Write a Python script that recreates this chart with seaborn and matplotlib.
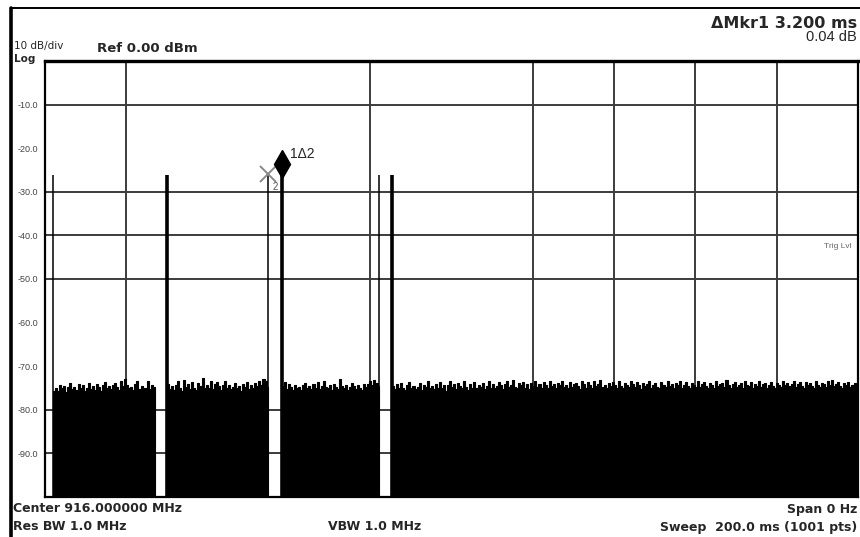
import numpy as np
import matplotlib
matplotlib.use("Agg")
import matplotlib.pyplot as plt
from matplotlib.lines import Line2D
from matplotlib.transforms import offset_copy
import seaborn as sns

# ---------------- data ----------------
sweep_ms = 200.0
ref_db = 0.0
bottom_db = -100.0
step_ms = 0.5

# gaps in the noise floor (trace drops below the screen)
gap_start_ms = [0.0, 27.1, 54.9, 82.2]
gap_end_ms = [2.0, 30.0, 58.3, 85.4]

# pulse spikes (ms, dB) and whether they are wide
spike_ms = [2.0, 30.0, 54.9, 58.3, 82.2, 85.4]
spike_db = [-26.2, -26.2, -26.0, -25.9, -26.2, -26.2]
spike_wide = [False, True, False, True, False, True]

# noise floor segments (dB, one value every 0.5 ms)
noise1 = [-75.6, -74.9, -75.8, -74.2, -75.1, -74.6, -75.9, -74.8, -73.9, -75.3,
          -74.7, -75.5, -74.1, -75.0, -74.4, -75.7, -74.9, -73.8, -75.2, -74.6,
          -75.4, -74.0, -74.8, -75.6, -74.3, -73.6, -75.1, -74.5, -75.3, -74.2,
          -73.9, -74.8, -75.5, -73.4, -74.6, -72.9, -74.2, -75.0, -74.7, -75.4,
          -74.1, -73.3, -75.2, -74.6, -75.1, -74.9, -73.5, -75.3, -74.2, -74.8]
noise2 = [-74.0, -75.2, -74.6, -75.5, -74.3, -73.4, -75.0, -75.6, -73.2, -74.8,
          -74.1, -75.3, -73.6, -74.9, -75.4, -73.9, -74.5, -72.8, -75.1, -74.3,
          -74.9, -73.5, -75.2, -74.0, -73.7, -74.6, -75.5, -74.2, -73.3, -75.0,
          -74.4, -75.3, -74.7, -73.8, -75.1, -74.5, -75.6, -74.1, -74.8, -73.6,
          -75.2, -74.4, -75.0, -73.9, -74.6, -73.4, -74.2, -72.9, -73.5, -74.8]
noise3 = [-74.5, -73.6, -75.2, -74.0, -74.8, -75.4, -74.3, -75.1, -74.7, -75.5,
          -74.2, -73.8, -75.0, -74.6, -75.3, -74.1, -74.9, -73.7, -75.2, -74.5,
          -73.3, -74.8, -75.1, -74.4, -75.4, -74.0, -74.7, -75.3, -72.9, -74.6,
          -75.0, -74.2, -75.5, -74.8, -73.9, -74.5, -75.2, -74.3, -74.9, -75.4,
          -74.1, -74.7, -74.0, -73.5, -74.4, -73.2, -73.8, -74.6]
noise4 = [-74.6, -75.3, -74.1, -75.0, -73.8, -74.9, -75.4, -74.2, -73.6, -75.1,
          -74.5, -75.2, -74.8, -73.9, -75.5, -74.3, -74.7, -73.4, -75.0, -74.6,
          -75.3, -74.0, -74.9, -73.7, -75.1, -74.4, -75.6, -74.2, -73.5, -74.8,
          -74.1, -75.2, -73.8, -74.6, -75.0, -73.3, -74.7, -75.4, -74.0, -74.9,
          -73.6, -75.1, -74.3, -74.8, -73.9, -75.2, -74.5, -73.4, -74.9, -74.1,
          -75.0, -74.6, -73.7, -74.2, -75.3, -74.0, -73.5, -74.8, -74.3, -73.2,
          -74.7, -75.1, -73.9, -74.4, -73.6, -74.9, -74.1, -75.2, -73.8, -74.5,
          -73.4, -74.8, -74.0, -75.0, -73.7, -74.3, -74.9, -73.5, -74.6, -74.1,
          -75.1, -73.9, -74.4, -73.3, -74.7, -74.2, -75.0, -73.6, -74.8, -74.0,
          -73.8, -74.5, -75.2, -73.4, -74.1, -74.9, -73.7, -74.3, -75.0, -73.5,
          -74.6, -74.0, -73.2, -74.8, -74.4, -75.1, -73.9, -74.6, -73.6, -74.2,
          -74.9, -73.4, -74.5, -75.0, -73.8, -74.3, -74.7, -73.3, -74.1, -74.8,
          -73.7, -74.4, -75.2, -73.9, -74.6, -74.0, -73.5, -74.9, -74.2, -73.8,
          -74.7, -75.0, -73.6, -74.3, -74.8, -73.4, -74.5, -74.1, -75.1, -73.9,
          -74.4, -73.3, -74.9, -74.2, -73.7, -74.6, -75.0, -73.8, -74.3, -74.7,
          -73.5, -74.8, -74.0, -73.6, -74.5, -75.1, -73.9, -74.2, -74.9, -73.4,
          -74.6, -74.1, -73.8, -74.7, -73.2, -74.4, -75.0, -74.0, -73.6, -74.8,
          -74.3, -73.9, -74.9, -73.5, -74.2, -74.6, -73.7, -75.1, -74.0, -74.5,
          -73.4, -74.7, -74.1, -73.8, -74.9, -74.3, -73.6, -74.5, -75.0, -73.9,
          -74.2, -74.8, -73.5, -74.4, -73.9, -74.6, -74.1, -73.3, -74.7, -74.0,
          -73.7, -74.5, -74.9, -73.6, -74.2, -73.8, -74.6, -75.0, -73.4, -74.3,
          -74.8, -73.9, -74.1, -74.7, -73.5, -74.4, -73.2, -74.6, -74.0, -73.7,
          -74.5, -74.9, -73.8, -74.2, -73.6, -74.8, -74.3, -73.9, -74.4, -73.5]
noise_segments = [noise1, noise2, noise3, noise4]

# graticule lines that are shown on the screen
grid_ms = [20, 80, 120, 140, 160, 180]
grid_db = [-10, -30, -40, -50, -80, -90]
ytick_db = [-10, -20, -30, -40, -50, -60, -70, -80, -90]
ytick_labels = ["-10.0", "-20.0", "-30.0", "-40.0", "-50.0", "-60.0", "-70.0", "-80.0", "-90.0"]

mkr1_idx = 3   # spike carrying marker 1 (diamond)
mkr2_idx = 2   # spike carrying marker 2 (cross)

# ---------------- build trace ----------------
t_parts, v_parts = [], []
seg_ends = gap_start_ms[1:] + [sweep_ms]
for g0, g1, noise, e in zip(gap_start_ms, gap_end_ms, noise_segments, seg_ends):
    t_parts.append([g0])
    v_parts.append([bottom_db - 5])
    tn = g1 + step_ms * np.arange(len(noise))
    keep = tn < e
    t_parts.append(tn[keep])
    v_parts.append(np.array(noise)[keep])
t_trace = np.concatenate(t_parts)
v_trace = np.concatenate(v_parts)
t_trace = np.append(t_trace, sweep_ms)
v_trace = np.append(v_trace, v_trace[-1])

# ---------------- plot ----------------
sns.set_style("white")
plt.rcParams["font.family"] = ["Liberation Sans", "DejaVu Sans"]

fig = plt.figure(figsize=(8.6, 5.37), dpi=100)
W, H = 860, 537
ax = fig.add_axes([45 / W, 40 / H, 813 / W, 436 / H])

grid_col = "#3c3c3c"
for g in grid_ms:
    ax.axvline(g, color=grid_col, lw=1.4, zorder=1)
for g in grid_db:
    ax.axhline(g, color=grid_col, lw=1.4, zorder=1)

ax.fill_between(t_trace, v_trace, bottom_db, step="post", color="black", lw=0, zorder=2)
sns.lineplot(x=t_trace, y=v_trace, drawstyle="steps-post", color="black", lw=0.8,
             estimator=None, sort=False, ax=ax, zorder=3)

for ts, vs, wide in zip(spike_ms, spike_db, spike_wide):
    ax.vlines(ts, bottom_db, vs, color="black", lw=2.6 if wide else 1.1, zorder=4)

# marker 1 (diamond above the trace point)
t1, v1 = spike_ms[mkr1_idx], spike_db[mkr1_idx]
tr_up = offset_copy(ax.transData, fig=fig, y=7, units="points")
ax.plot([t1], [v1], marker="d", ms=14, color="black", transform=tr_up, zorder=6, clip_on=False)
ax.annotate("1\u03942", xy=(t1, v1), xytext=(6, 9), textcoords="offset points",
            fontsize=10, va="bottom", ha="left", zorder=7)

# marker 2 (cross)
t2, v2 = spike_ms[mkr2_idx], spike_db[mkr2_idx]
ax.plot([t2], [v2], marker="x", ms=11, mew=1.4, color="#8a8a8a", ls="none", zorder=5)
ax.annotate("2", xy=(t2, v2), xytext=(3, -9), textcoords="offset points",
            fontsize=7, color="#555555", va="center", ha="left", zorder=5)

ax.set_xlim(0, sweep_ms)
ax.set_ylim(bottom_db, ref_db)
ax.set_xticks([])
ax.set_yticks(ytick_db)
ax.set_yticklabels(ytick_labels, fontsize=6.5, color="#444444")
ax.tick_params(axis="y", length=0, pad=5)
ax.set_xlabel("")
ax.set_ylabel("")
for side, sp in ax.spines.items():
    sp.set_color("black")
    sp.set_linewidth(1.6)
    sp.set_visible(True)
ax.spines["top"].set_linewidth(2.4)

ax.text(0.9926, -42.5, "Trig Lvl", transform=ax.get_yaxis_transform(), fontsize=6,
        color="#666666", ha="right", va="center")

# screen frame
fig.add_artist(Line2D([11 / W, 11 / W], [0, 1 - 8 / H], transform=fig.transFigure,
                      color="black", lw=2.6))
fig.add_artist(Line2D([11 / W, 1], [1 - 8 / H, 1 - 8 / H], transform=fig.transFigure,
                      color="black", lw=1.4))

DV = ["DejaVu Sans"]

def ftxt(x, y, s, **kw):
    fig.text(x / W, 1 - y / H, s, va="center", **kw)

ftxt(14, 46, "10 dB/div", fontsize=7.5, ha="left", family=DV)
ftxt(14, 58.5, "Log", fontsize=7.5, ha="left", weight="bold", family=DV)
ftxt(97, 49, "Ref 0.00 dBm", fontsize=9.5, ha="left", weight="bold", family=DV)
ftxt(857, 24, "\u0394Mkr1 3.200 ms", fontsize=11.5, ha="right", weight="bold", family=DV)
ftxt(857, 37, "0.04 dB", fontsize=10.5, ha="right")
ftxt(13, 509, "Center 916.000000 MHz", fontsize=9, ha="left", weight="bold", family=DV)
ftxt(857, 509, "Span 0 Hz", fontsize=9, ha="right", weight="bold", family=DV)
ftxt(13, 527, "Res BW 1.0 MHz", fontsize=9, ha="left", weight="bold", family=DV)
ftxt(328, 527, "VBW 1.0 MHz", fontsize=9, ha="left", weight="bold", family=DV)
ftxt(857, 527, "Sweep  200.0 ms (1001 pts)", fontsize=9, ha="right", weight="bold", family=DV)

fig.savefig("out.png", dpi=100, facecolor="white")
